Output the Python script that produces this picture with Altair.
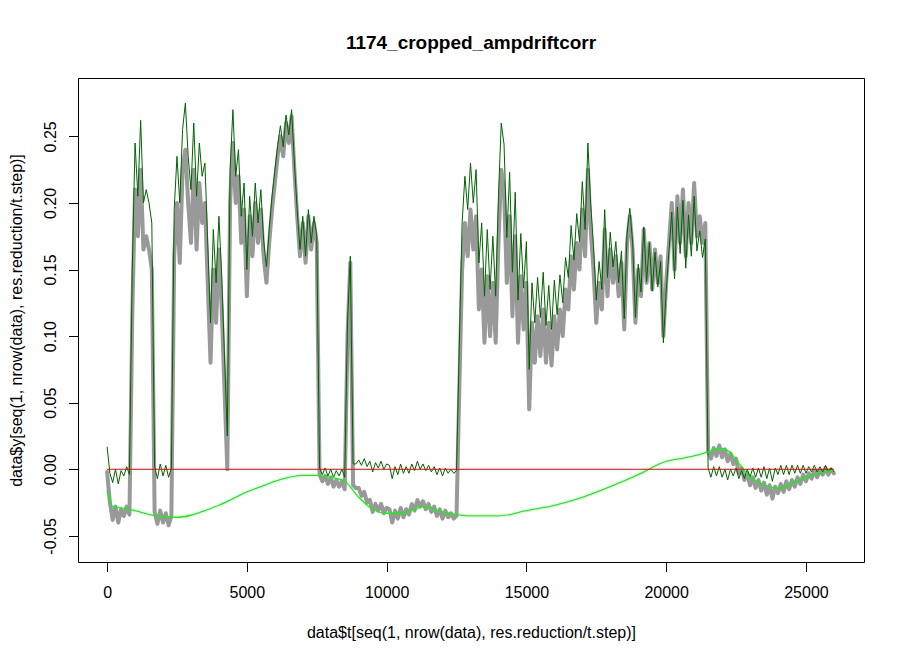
import altair as alt
import pandas as pd

# sampling grid of the two measured series (every 100 time units)
T = list(range(0, 26001, 100))

RAW = [
    -0.002, -0.025, -0.038, -0.028, -0.040, -0.030, -0.035, -0.028, -0.034, 0.115,
    0.21, 0.175, 0.225, 0.165, 0.175, 0.165, 0.15, -0.032, -0.041, -0.031,
    -0.040, -0.033, -0.042, -0.035, 0.16, 0.2, 0.155, 0.225, 0.24, 0.2,
    0.17, 0.225, 0.165, 0.215, 0.185, 0.2, 0.14, 0.08, 0.15, 0.11,
    0.165, 0.12, 0.06, 0.0, 0.2, 0.245, 0.2, 0.22, 0.17, 0.195,
    0.13, 0.19, 0.16, 0.2, 0.17, 0.195, 0.16, 0.14, 0.17, 0.195,
    0.215, 0.235, 0.25, 0.235, 0.26, 0.245, 0.265, 0.225, 0.19, 0.16,
    0.185, 0.155, 0.19, 0.165, 0.185, 0.17, -0.004, -0.009, -0.005, -0.011,
    -0.006, -0.013, -0.008, -0.013, -0.009, -0.015, 0.1, 0.155, -0.012, -0.014,
    -0.014, -0.020, -0.017, -0.025, -0.023, -0.032, -0.026, -0.031, -0.026, -0.033,
    -0.029, -0.030, -0.040, -0.031, -0.037, -0.029, -0.036, -0.030, -0.034, -0.026,
    -0.031, -0.023, -0.028, -0.024, -0.030, -0.026, -0.032, -0.028, -0.035, -0.030,
    -0.037, -0.031, -0.036, -0.033, -0.037, -0.035, 0.06, 0.15, 0.185, 0.16,
    0.195, 0.165, 0.19, 0.12, 0.15, 0.095, 0.145, 0.1, 0.14, 0.095,
    0.17, 0.225, 0.21, 0.14, 0.19, 0.115, 0.175, 0.095, 0.145, 0.105,
    0.14, 0.045, 0.11, 0.08, 0.115, 0.085, 0.12, 0.08, 0.11, 0.078,
    0.115, 0.09, 0.12, 0.1, 0.135, 0.12, 0.16, 0.135, 0.17, 0.15,
    0.195, 0.16, 0.225, 0.18, 0.15, 0.11, 0.14, 0.12, 0.18, 0.13,
    0.165, 0.14, 0.16, 0.13, 0.155, 0.105, 0.17, 0.19, 0.165, 0.11,
    0.15, 0.13, 0.18, 0.14, 0.17, 0.135, 0.165, 0.14, 0.16, 0.1,
    0.14, 0.17, 0.2, 0.15, 0.205, 0.17, 0.21, 0.16, 0.2, 0.17,
    0.215, 0.175, 0.19, 0.17, 0.185, 0.014, 0.008, 0.016, 0.010, 0.018,
    0.009, 0.015, 0.006, 0.012, 0.004, 0.008, -0.003, 0.001, -0.008, -0.003,
    -0.012, -0.006, -0.014, -0.008, -0.016, -0.010, -0.019, -0.012, -0.022, -0.013,
    -0.018, -0.011, -0.017, -0.009, -0.015, -0.008, -0.013, -0.006, -0.011, -0.004,
    -0.009, -0.003, -0.007, -0.001, -0.006, -0.001, -0.004, 0.001, -0.004, 0.000,
    -0.003,
]

CORR = [
    0.017, -0.003, -0.010, 0.000, -0.011, -0.001, -0.005, 0.002, -0.004, 0.15,
    0.245, 0.205, 0.262, 0.2, 0.21, 0.2, 0.185, 0.002, -0.007, 0.004,
    -0.005, 0.003, -0.006, 0.001, 0.195, 0.235, 0.2, 0.255, 0.275, 0.235,
    0.21, 0.26, 0.205, 0.245, 0.22, 0.23, 0.17, 0.11, 0.18, 0.14,
    0.19, 0.145, 0.085, 0.025, 0.225, 0.27, 0.22, 0.24, 0.19, 0.215,
    0.15, 0.205, 0.175, 0.215, 0.185, 0.21, 0.172, 0.152, 0.18, 0.205,
    0.224, 0.243, 0.258, 0.242, 0.266, 0.251, 0.27, 0.23, 0.195, 0.165,
    0.19, 0.16, 0.195, 0.17, 0.19, 0.175, 0.001, -0.004, 0.001, -0.005,
    0.0, -0.006, -0.001, -0.005, 0.0, -0.006, 0.11, 0.16, 0.004, 0.004,
    0.007, 0.003, 0.008, 0.002, 0.006, -0.002, 0.005, 0.001, 0.006, 0.0,
    0.004, 0.003, -0.007, 0.002, -0.004, 0.004, -0.003, 0.002, -0.003, 0.004,
    -0.001, 0.006, 0.0, 0.004, -0.001, 0.003, -0.002, 0.002, -0.004, 0.001,
    -0.005, 0.001, -0.003, 0.0, -0.003, -0.001, 0.094, 0.185, 0.22, 0.195,
    0.23, 0.2, 0.225, 0.155, 0.185, 0.13, 0.18, 0.135, 0.175, 0.13,
    0.205, 0.26, 0.244, 0.174, 0.223, 0.148, 0.208, 0.127, 0.177, 0.136,
    0.171, 0.075, 0.14, 0.11, 0.144, 0.114, 0.148, 0.108, 0.138, 0.105,
    0.142, 0.116, 0.146, 0.125, 0.159, 0.144, 0.183, 0.157, 0.192, 0.171,
    0.216, 0.18, 0.245, 0.199, 0.168, 0.127, 0.156, 0.135, 0.195, 0.144,
    0.178, 0.152, 0.171, 0.14, 0.164, 0.113, 0.177, 0.196, 0.17, 0.114,
    0.154, 0.133, 0.182, 0.141, 0.17, 0.134, 0.163, 0.137, 0.156, 0.095,
    0.134, 0.164, 0.193, 0.143, 0.197, 0.162, 0.202, 0.151, 0.191, 0.16,
    0.205, 0.164, 0.179, 0.159, 0.173, 0.001, -0.006, 0.002, -0.005, 0.002,
    -0.006, 0.0, -0.008, 0.0, -0.005, 0.001, -0.007, -0.001, -0.007, 0.0,
    -0.006, 0.001, -0.006, 0.001, -0.006, 0.002, -0.007, 0.001, -0.009, 0.001,
    -0.004, 0.003, -0.004, 0.003, -0.004, 0.003, -0.003, 0.003, -0.003, 0.003,
    -0.003, 0.002, -0.002, 0.003, -0.002, 0.002, -0.002, 0.003, -0.002, 0.001,
    -0.002,
]

DRIFT_T = [0, 200, 500, 1000, 1500, 2000, 2500, 3000, 3500, 4000,
           4500, 5000, 5500, 6000, 6500, 7000, 7500, 8000, 8500, 9000,
           9500, 10000, 10500, 11000, 11300, 11700, 12000, 12500, 13000, 14000,
           15000, 16000, 17000, 18000, 19000, 20000, 20500, 21000, 21500, 21900,
           22200, 22600, 23000, 23500, 24000, 24500, 25000, 25500, 26000]
DRIFT_Y = [-0.016, -0.028, -0.029, -0.031, -0.034, -0.0355, -0.036, -0.0345, -0.031, -0.027,
           -0.022, -0.017, -0.013, -0.009, -0.006, -0.0045, -0.0045, -0.006, -0.009, -0.021,
           -0.030, -0.033, -0.033, -0.030, -0.028, -0.030, -0.032, -0.034, -0.035, -0.035,
           -0.031, -0.027, -0.021, -0.013, -0.004, 0.006, 0.008, 0.010, 0.013, 0.0158,
           0.014, 0.0045, -0.006, -0.0115, -0.0143, -0.0105, -0.006, -0.003, -0.0005]

ZERO_T = [0, 26000]
ZERO_Y = [0.0, 0.0]

X_TICKS = [0, 5000, 10000, 15000, 20000, 25000]
Y_TICKS = [-0.05, 0.0, 0.05, 0.10, 0.15, 0.20, 0.25]

raw_df = pd.DataFrame({"t": T, "y": RAW})
corr_df = pd.DataFrame({"t": T, "y": CORR})
drift_df = pd.DataFrame({"t": DRIFT_T, "y": DRIFT_Y})
zero_df = pd.DataFrame({"t": ZERO_T, "y": ZERO_Y})

FONT = "Liberation Sans"
W, H = 786, 484

x_enc = alt.X(
    "t:Q",
    scale=alt.Scale(domain=[-1041, 27077], nice=False, zero=False),
    axis=alt.Axis(
        values=X_TICKS, format="d",
        title="data$t[seq(1, nrow(data), res.reduction/t.step)]",
        labelAngle=0, labelAlign="center", labelBaseline="alphabetic",
        labelPadding=25.8, titleX=W / 2, titleY=75,
        titleAlign="center", titleBaseline="alphabetic",
    ),
)
y_enc = alt.Y(
    "y:Q",
    scale=alt.Scale(domain=[-0.0696, 0.2938], nice=False, zero=False),
    axis=alt.Axis(
        values=Y_TICKS,
        labelExpr="datum.value < 0 ? '-' + format(-datum.value, '.2f') : format(datum.value, '.2f')",
        title="data$y[seq(1, nrow(data), res.reduction/t.step)]",
        labelAngle=270, labelAlign="center", labelBaseline="alphabetic",
        labelPadding=12.8, titleAngle=270, titleX=-57, titleY=H / 2,
        titleAlign="center", titleBaseline="alphabetic",
    ),
)

raw = alt.Chart(raw_df).mark_line(
    color="#999999", strokeWidth=4, strokeCap="round", strokeJoin="round"
).encode(x=x_enc, y=y_enc)
corr = alt.Chart(corr_df).mark_line(color="#006400", strokeWidth=1).encode(x="t:Q", y="y:Q")
drift = alt.Chart(drift_df).mark_line(
    color="#00FF00", strokeWidth=1.3, interpolate="monotone"
).encode(x="t:Q", y="y:Q")
zero = alt.Chart(zero_df).mark_line(color="#FF0000", strokeWidth=1).encode(x="t:Q", y="y:Q")

chart = alt.layer(raw, corr, drift, zero).properties(
    width=W, height=H,
    title=alt.TitleParams(
        "1174_cropped_ampdriftcorr", font=FONT, fontSize=19, fontWeight="bold",
        anchor="middle", baseline="alphabetic", offset=10, color="black",
    ),
    autosize=alt.AutoSizeParams(type="none"),
    padding={"left": 70, "top": 70, "right": 33, "bottom": 90},
).configure(
    background="white",
).configure_view(
    stroke="black", strokeWidth=1,
).configure_axis(
    domain=False, grid=False, ticks=True, tickSize=9.5, tickColor="black", tickWidth=1,
    labelFont=FONT, labelFontSize=16, labelColor="black", labelFlush=False,
    labelOverlap=False, labelBound=False,
    titleFont=FONT, titleFontSize=16, titleFontWeight="normal", titleColor="black",
)

chart.save("out.html", embed_options={"renderer": "svg", "actions": False})
